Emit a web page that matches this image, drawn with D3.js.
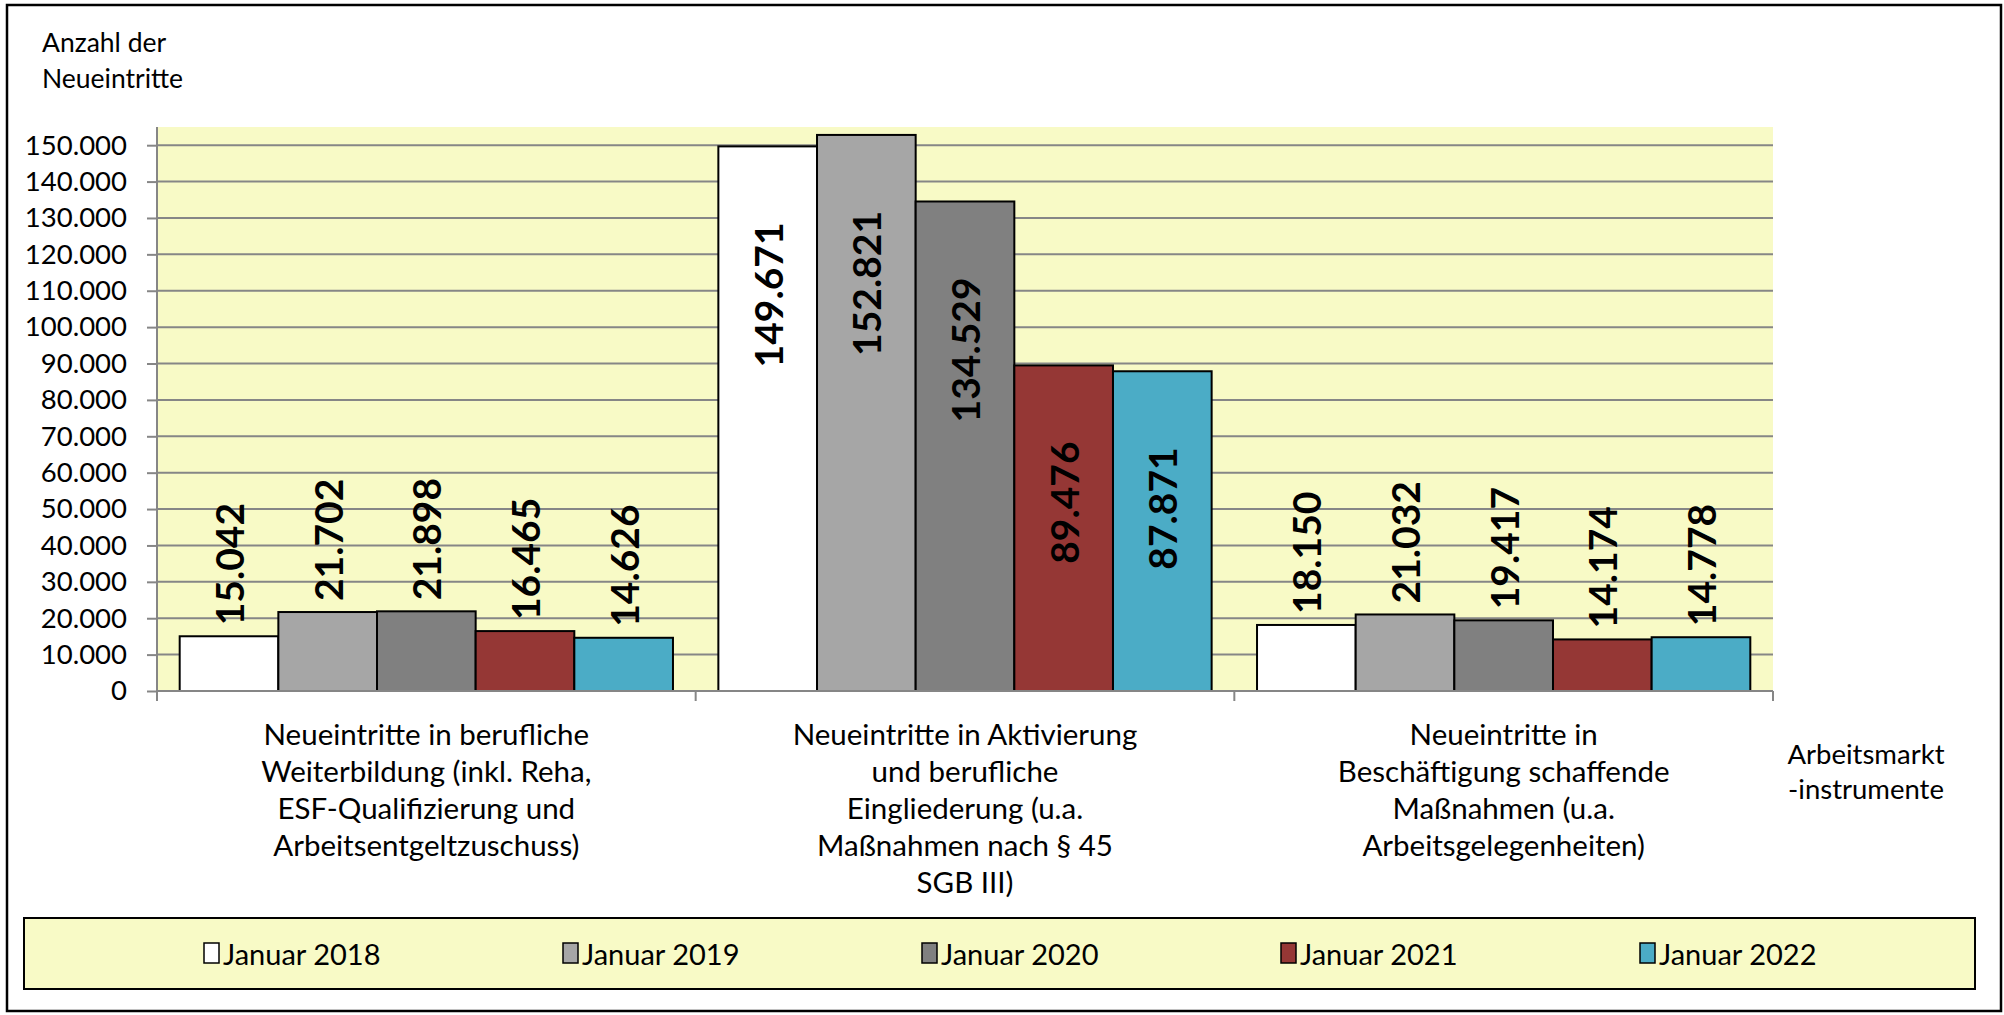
<!DOCTYPE html>
<html>
<head>
<meta charset="utf-8">
<script src="https://cdn.jsdelivr.net/npm/d3@7"></script>
<style>
  body { margin: 0; background: #fff; }
  text { font-family: Lato, "Open Sans", sans-serif; fill: #000; }
</style>
</head>
<body>
<svg id="chart"></svg>
<script>
// Data
const categories = [
  ['Neueintritte in berufliche', 'Weiterbildung (inkl. Reha,', 'ESF-Qualifizierung und', 'Arbeitsentgeltzuschuss)'],
  ['Neueintritte in Aktivierung', 'und berufliche', 'Eingliederung (u.a.', 'Maßnahmen nach § 45', 'SGB III)'],
  ['Neueintritte in', 'Beschäftigung schaffende', 'Maßnahmen (u.a.', 'Arbeitsgelegenheiten)']
]
const seriesNames = ['Januar 2018', 'Januar 2019', 'Januar 2020', 'Januar 2021', 'Januar 2022']
const seriesColors = ['#ffffff', '#a6a6a6', '#808080', '#953735', '#4bacc6']
const values2018 = [15042, 149671, 18150]
const values2019 = [21702, 152821, 21032]
const values2020 = [21898, 134529, 19417]
const values2021 = [16465, 89476, 14174]
const values2022 = [14626, 87871, 14778]
const yTicks = d3.range(0, 150001, 10000)
const yTitle = ['Anzahl der', 'Neueintritte']
const xTitle = ['Arbeitsmarkt', '-instrumente']

const seriesValues = [values2018, values2019, values2020, values2021, values2022]

const width = 2004
const height = 1015
const plot = { left: 157, right: 1773, top: 127, bottom: 691 }

const de = d3.formatLocale({ decimal: ',', thousands: '.', grouping: [3], currency: ['', ' €'] })
const fmt = de.format(',d')

const svg = d3.select('#chart').attr('width', width).attr('height', height)

svg.append('rect')
  .attr('x', 0).attr('y', 0).attr('width', width).attr('height', height)
  .attr('fill', '#fff')

// outer frame
svg.append('rect')
  .attr('x', 7).attr('y', 5).attr('width', 1994).attr('height', 1006)
  .attr('fill', 'none').attr('stroke', '#000').attr('stroke-width', 2.5)

// Scales
const groupIdx = categories.map((d, i) => i)
const x0 = d3.scaleBand()
  .domain(groupIdx)
  .range([plot.left, plot.right])
  .padding(0)

const x1 = d3.scaleBand()
  .domain(seriesNames)
  .range([0, x0.bandwidth()])
  .paddingInner(0)
  .paddingOuter(0.23)

const y = d3.scaleLinear()
  .domain([0, 155000])
  .range([plot.bottom, plot.top])

// plot area background
svg.append('rect')
  .attr('x', plot.left).attr('y', plot.top)
  .attr('width', plot.right - plot.left).attr('height', plot.bottom - plot.top)
  .attr('fill', '#f8fac6')

// gridlines
svg.append('g')
  .selectAll('line')
  .data(yTicks.filter(d => d > 0))
  .join('line')
  .attr('x1', plot.left).attr('x2', plot.right)
  .attr('y1', d => y(d)).attr('y2', d => y(d))
  .attr('stroke', '#868686').attr('stroke-width', 2)

// y axis
const yAxis = d3.axisLeft(y).tickValues(yTicks).tickFormat(fmt).tickSize(10).tickPadding(20)
const gy = svg.append('g')
  .attr('transform', `translate(${plot.left},0)`)
  .call(yAxis)
gy.select('.domain').remove()
gy.selectAll('.tick line').attr('stroke', '#868686').attr('stroke-width', 2)
gy.selectAll('.tick text')
  .attr('font-family', 'Lato, sans-serif')
  .attr('font-size', 27.5)
  .attr('fill', '#000')
gy.append('line')
  .attr('x1', 0).attr('x2', 0)
  .attr('y1', plot.top).attr('y2', plot.bottom + 10)
  .attr('stroke', '#868686').attr('stroke-width', 2)

// bars
const flat = []
seriesValues.forEach((vals, s) => {
  vals.forEach((v, g) => flat.push({ g, s, name: seriesNames[s], value: v }))
})

svg.append('g')
  .selectAll('rect')
  .data(flat)
  .join('rect')
  .attr('x', d => x0(d.g) + x1(d.name))
  .attr('y', d => y(d.value))
  .attr('width', x1.bandwidth())
  .attr('height', d => y(0) - y(d.value))
  .attr('fill', d => seriesColors[d.s])
  .attr('stroke', '#000')
  .attr('stroke-width', 2)

// x axis
svg.append('line')
  .attr('x1', plot.left).attr('x2', plot.right)
  .attr('y1', plot.bottom).attr('y2', plot.bottom)
  .attr('stroke', '#868686').attr('stroke-width', 2)

svg.append('g')
  .selectAll('line')
  .data(groupIdx.concat([categories.length]))
  .join('line')
  .attr('x1', d => plot.left + d * x0.step())
  .attr('x2', d => plot.left + d * x0.step())
  .attr('y1', plot.bottom).attr('y2', plot.bottom + 10)
  .attr('stroke', '#868686').attr('stroke-width', 2)

// data labels
svg.append('g')
  .selectAll('text')
  .data(flat)
  .join('text')
  .attr('transform', d => {
    const cx = x0(d.g) + x1(d.name) + x1.bandwidth() / 2
    const inside = d.value > 50000
    const yy = inside ? y(d.value) + 76 : y(d.value) - 11
    return `translate(${cx},${yy}) rotate(-90)`
  })
  .attr('text-anchor', d => d.value > 50000 ? 'end' : 'start')
  .attr('dominant-baseline', 'central')
  .attr('font-size', 39)
  .attr('font-weight', 'bold')
  .text(d => fmt(d.value))

// category labels
const catG = svg.append('g')
  .selectAll('text')
  .data(categories)
  .join('text')
  .attr('x', (d, i) => x0(i) + x0.bandwidth() / 2)
  .attr('y', 745)
  .attr('text-anchor', 'middle')
  .attr('font-size', 29.5)
catG.selectAll('tspan')
  .data(d => d)
  .join('tspan')
  .attr('x', function () { return d3.select(this.parentNode).attr('x') })
  .attr('dy', (d, i) => i === 0 ? 0 : 37)
  .text(d => d)

// axis titles
svg.append('text')
  .attr('x', 42).attr('y', 52)
  .attr('font-size', 26.5)
  .selectAll('tspan')
  .data(yTitle)
  .join('tspan')
  .attr('x', 42)
  .attr('dy', (d, i) => i === 0 ? 0 : 36)
  .text(d => d)

svg.append('text')
  .attr('x', 1866).attr('y', 764)
  .attr('text-anchor', 'middle')
  .attr('font-size', 27.5)
  .selectAll('tspan')
  .data(xTitle)
  .join('tspan')
  .attr('x', 1866)
  .attr('dy', (d, i) => i === 0 ? 0 : 35)
  .text(d => d)

// legend
svg.append('rect')
  .attr('x', 24).attr('y', 918).attr('width', 1951).attr('height', 71)
  .attr('fill', '#f8fac6').attr('stroke', '#000').attr('stroke-width', 2)

const legendX = d3.scalePoint()
  .domain(seriesNames)
  .range([204, 1640])

const lg = svg.append('g')
  .selectAll('g')
  .data(seriesNames)
  .join('g')
  .attr('transform', d => `translate(${legendX(d)},953)`)

lg.append('rect')
  .attr('x', 0).attr('y', -10).attr('width', 15).attr('height', 20)
  .attr('fill', (d, i) => seriesColors[i])
  .attr('stroke', '#000').attr('stroke-width', 1.5)

lg.append('text')
  .attr('x', 19).attr('y', 0)
  .attr('dominant-baseline', 'central')
  .attr('font-size', 29)
  .text(d => d)
</script>
</body>
</html>
